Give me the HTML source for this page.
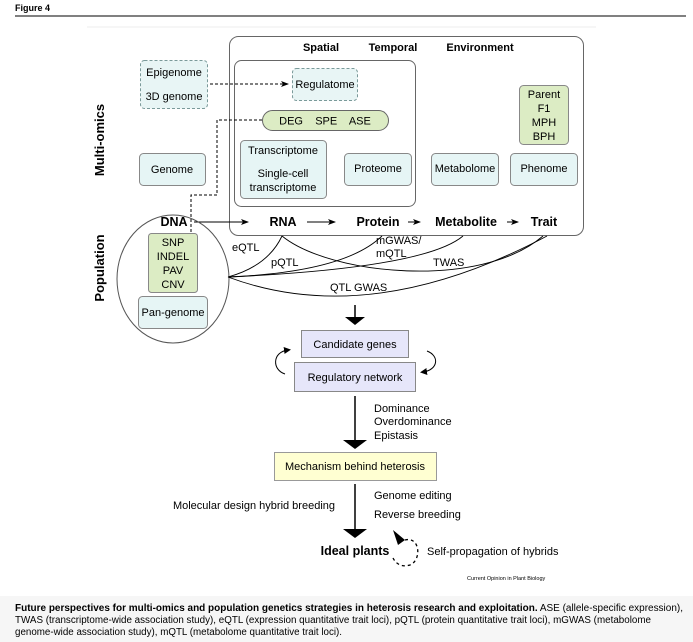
<!DOCTYPE html>
<html><head><meta charset="utf-8"><style>
html,body{margin:0;padding:0;background:#fff;}
svg{display:block;font-family:"Liberation Sans",Arial,sans-serif;}
</style></head><body>
<svg width="693" height="642" viewBox="0 0 693 642" xmlns="http://www.w3.org/2000/svg">
<defs>
<marker id="ah" markerWidth="8" markerHeight="6" refX="7" refY="3" orient="auto" markerUnits="userSpaceOnUse"><path d="M0,0 L8,3 L0,6 L2,3 z" fill="#000"/></marker>
<marker id="sm" markerWidth="7" markerHeight="7" refX="4" refY="3.5" orient="auto" markerUnits="userSpaceOnUse"><path d="M0,0 L7,3.5 L0,7 z" fill="#000"/></marker>
</defs>
<rect x="0" y="0" width="693" height="642" fill="#fff"/>
<text x="15" y="11" font-size="9" font-weight="bold">Figure 4</text>
<line x1="15" y1="16" x2="686" y2="16" stroke="#000" stroke-width="1"/>
<line x1="87" y1="27" x2="596" y2="27" stroke="#eee" stroke-width="1"/>
<rect x="0" y="596" width="693" height="46" fill="#f6f6f6"/>

<text transform="translate(104,140) rotate(-90)" font-size="13" font-weight="bold" text-anchor="middle">Multi-omics</text>
<text transform="translate(104,268) rotate(-90)" font-size="13" font-weight="bold" text-anchor="middle">Population</text>

<rect x="229.5" y="36.5" width="354" height="199" rx="9" fill="none" stroke="#666"/>
<rect x="234.5" y="60.5" width="181" height="146" rx="7" fill="none" stroke="#666"/>
<g font-size="11" font-weight="bold" text-anchor="middle">
<text x="321" y="51">Spatial</text><text x="393" y="51">Temporal</text><text x="480" y="51">Environment</text>
</g>

<rect x="140.5" y="60.5" width="67" height="48" rx="4" fill="#e8f5f5" stroke="#7a9a9a" stroke-dasharray="3,2"/>
<text x="174" y="76" font-size="11" text-anchor="middle">Epigenome</text>
<text x="174" y="100" font-size="11" text-anchor="middle">3D genome</text>
<rect x="292.5" y="68.5" width="65" height="32" rx="4" fill="#e8f5f5" stroke="#7a9a9a" stroke-dasharray="3,2"/>
<text x="325" y="88" font-size="11" text-anchor="middle">Regulatome</text>
<line x1="210" y1="84" x2="288" y2="84" stroke="#000" stroke-dasharray="3,2" marker-end="url(#ah)"/>

<rect x="262.5" y="110.5" width="126" height="20" rx="10" fill="#dcecc4" stroke="#666"/>
<text x="325" y="124.5" font-size="11" text-anchor="middle" xml:space="preserve">DEG    SPE    ASE</text>
<polyline points="262,120 217,120 217,195 191,195 191,232" fill="none" stroke="#000" stroke-dasharray="3,2"/>

<g fill="#e6f5f5" stroke="#888">
<rect x="139.5" y="153.5" width="66" height="32" rx="4"/>
<rect x="240.5" y="140.5" width="86" height="58" rx="4"/>
<rect x="344.5" y="153.5" width="67" height="32" rx="4"/>
<rect x="431.5" y="153.5" width="67" height="32" rx="4"/>
<rect x="510.5" y="153.5" width="67" height="32" rx="4"/>
</g>
<g font-size="11" text-anchor="middle">
<text x="172" y="173">Genome</text>
<text x="283" y="154">Transcriptome</text>
<text x="283" y="177">Single-cell</text>
<text x="283" y="191">transcriptome</text>
<text x="378" y="172">Proteome</text>
<text x="465" y="172">Metabolome</text>
<text x="544" y="172">Phenome</text>
</g>
<rect x="519.5" y="85.5" width="49" height="59" rx="4" fill="#dcecc4" stroke="#888"/>
<g font-size="11" text-anchor="middle">
<text x="544" y="98">Parent</text><text x="544" y="112">F1</text><text x="544" y="126">MPH</text><text x="544" y="140">BPH</text>
</g>

<g font-size="12.5" font-weight="bold" text-anchor="middle">
<text x="174" y="226">DNA</text><text x="283" y="226">RNA</text><text x="378" y="226">Protein</text><text x="466" y="226">Metabolite</text><text x="544" y="226">Trait</text>
</g>
<g stroke="#000" marker-end="url(#ah)">
<line x1="194" y1="222" x2="248" y2="222"/>
<line x1="307" y1="222" x2="335" y2="222"/>
<line x1="408" y1="222" x2="420" y2="222"/>
<line x1="507" y1="222" x2="518" y2="222"/>
</g>

<ellipse cx="173" cy="279" rx="56" ry="64" fill="none" stroke="#555"/>
<rect x="148.5" y="233.5" width="49" height="59" rx="3" fill="#dcecc4" stroke="#888"/>
<g font-size="11" text-anchor="middle">
<text x="173" y="246">SNP</text><text x="173" y="260">INDEL</text><text x="173" y="274">PAV</text><text x="173" y="288">CNV</text>
</g>
<rect x="138.5" y="296.5" width="69" height="32" rx="4" fill="#e6f5f5" stroke="#888"/>
<text x="173" y="316" font-size="11" text-anchor="middle">Pan-genome</text>

<g fill="none" stroke="#000" stroke-width="0.9">
<path d="M228,277 Q268,266 282,236"/>
<path d="M228,277 Q345,272 382,236"/>
<path d="M228,277 Q425,268 463,236"/>
<path d="M228,277 Q370,330 547,236"/>
<path d="M282,236 C330,275 480,290 543,236"/>
</g>
<g font-size="11">
<text x="232" y="251">eQTL</text>
<text x="271" y="266">pQTL</text>
<text x="376" y="244">mGWAS/</text>
<text x="376" y="257">mQTL</text>
<text x="433" y="266">TWAS</text>
<text x="330" y="291">QTL GWAS</text>
</g>

<line x1="355" y1="305" x2="355" y2="318" stroke="#000" stroke-width="1.5"/>
<path d="M345,317 L365,317 L355,325 z" fill="#000"/>

<rect x="301.5" y="330.5" width="107" height="27" fill="#e6e6fa" stroke="#888"/>
<text x="355" y="348" font-size="11" text-anchor="middle">Candidate genes</text>
<rect x="294.5" y="362.5" width="121" height="29" fill="#e6e6fa" stroke="#888"/>
<text x="355" y="381" font-size="11" text-anchor="middle">Regulatory network</text>
<path d="M285,374 C272,370 272,352 288,350" fill="none" stroke="#000" marker-end="url(#sm)"/>
<path d="M427,351 C440,356 438,370 423,372" fill="none" stroke="#000" marker-end="url(#sm)"/>

<line x1="355" y1="396" x2="355" y2="442" stroke="#000" stroke-width="1.5"/>
<path d="M343,440 L367,440 L355,449 z" fill="#000"/>
<g font-size="11"><text x="374" y="412">Dominance</text><text x="374" y="425">Overdominance</text><text x="374" y="439">Epistasis</text></g>

<rect x="274.5" y="452.5" width="162" height="28" fill="#ffffd2" stroke="#999"/>
<text x="355" y="470" font-size="11" text-anchor="middle">Mechanism behind heterosis</text>

<line x1="355" y1="484" x2="355" y2="530" stroke="#000" stroke-width="1.5"/>
<path d="M343,529 L367,529 L355,538 z" fill="#000"/>
<g font-size="11"><text x="374" y="499">Genome editing</text><text x="374" y="518">Reverse breeding</text></g>
<text x="335" y="509" font-size="11" text-anchor="end">Molecular design hybrid breeding</text>

<text x="355" y="555" font-size="12.5" font-weight="bold" text-anchor="middle">Ideal plants</text>
<path d="M405,540 C420,536 422,560 410,565 C400,568 395,562 393,558" fill="none" stroke="#000" stroke-width="1.3" stroke-dasharray="3,3"/>
<path d="M393,530 L405,540 L398,545 z" fill="#000"/>
<text x="427" y="555" font-size="11">Self-propagation of hybrids</text>
<text x="467" y="580" font-size="5.5">Current Opinion in Plant Biology</text>

<g font-size="9.8">
<text x="15" y="611" textLength="668" lengthAdjust="spacingAndGlyphs"><tspan font-weight="bold">Future perspectives for multi-omics and population genetics strategies in heterosis research and exploitation.</tspan> ASE (allele-specific expression),</text>
<text x="15" y="623" textLength="636" lengthAdjust="spacingAndGlyphs">TWAS (transcriptome-wide association study), eQTL (expression quantitative trait loci), pQTL (protein quantitative trait loci), mGWAS (metabolome</text>
<text x="15" y="635" textLength="327" lengthAdjust="spacingAndGlyphs">genome-wide association study), mQTL (metabolome quantitative trait loci).</text>
</g>
</svg>
</body></html>
